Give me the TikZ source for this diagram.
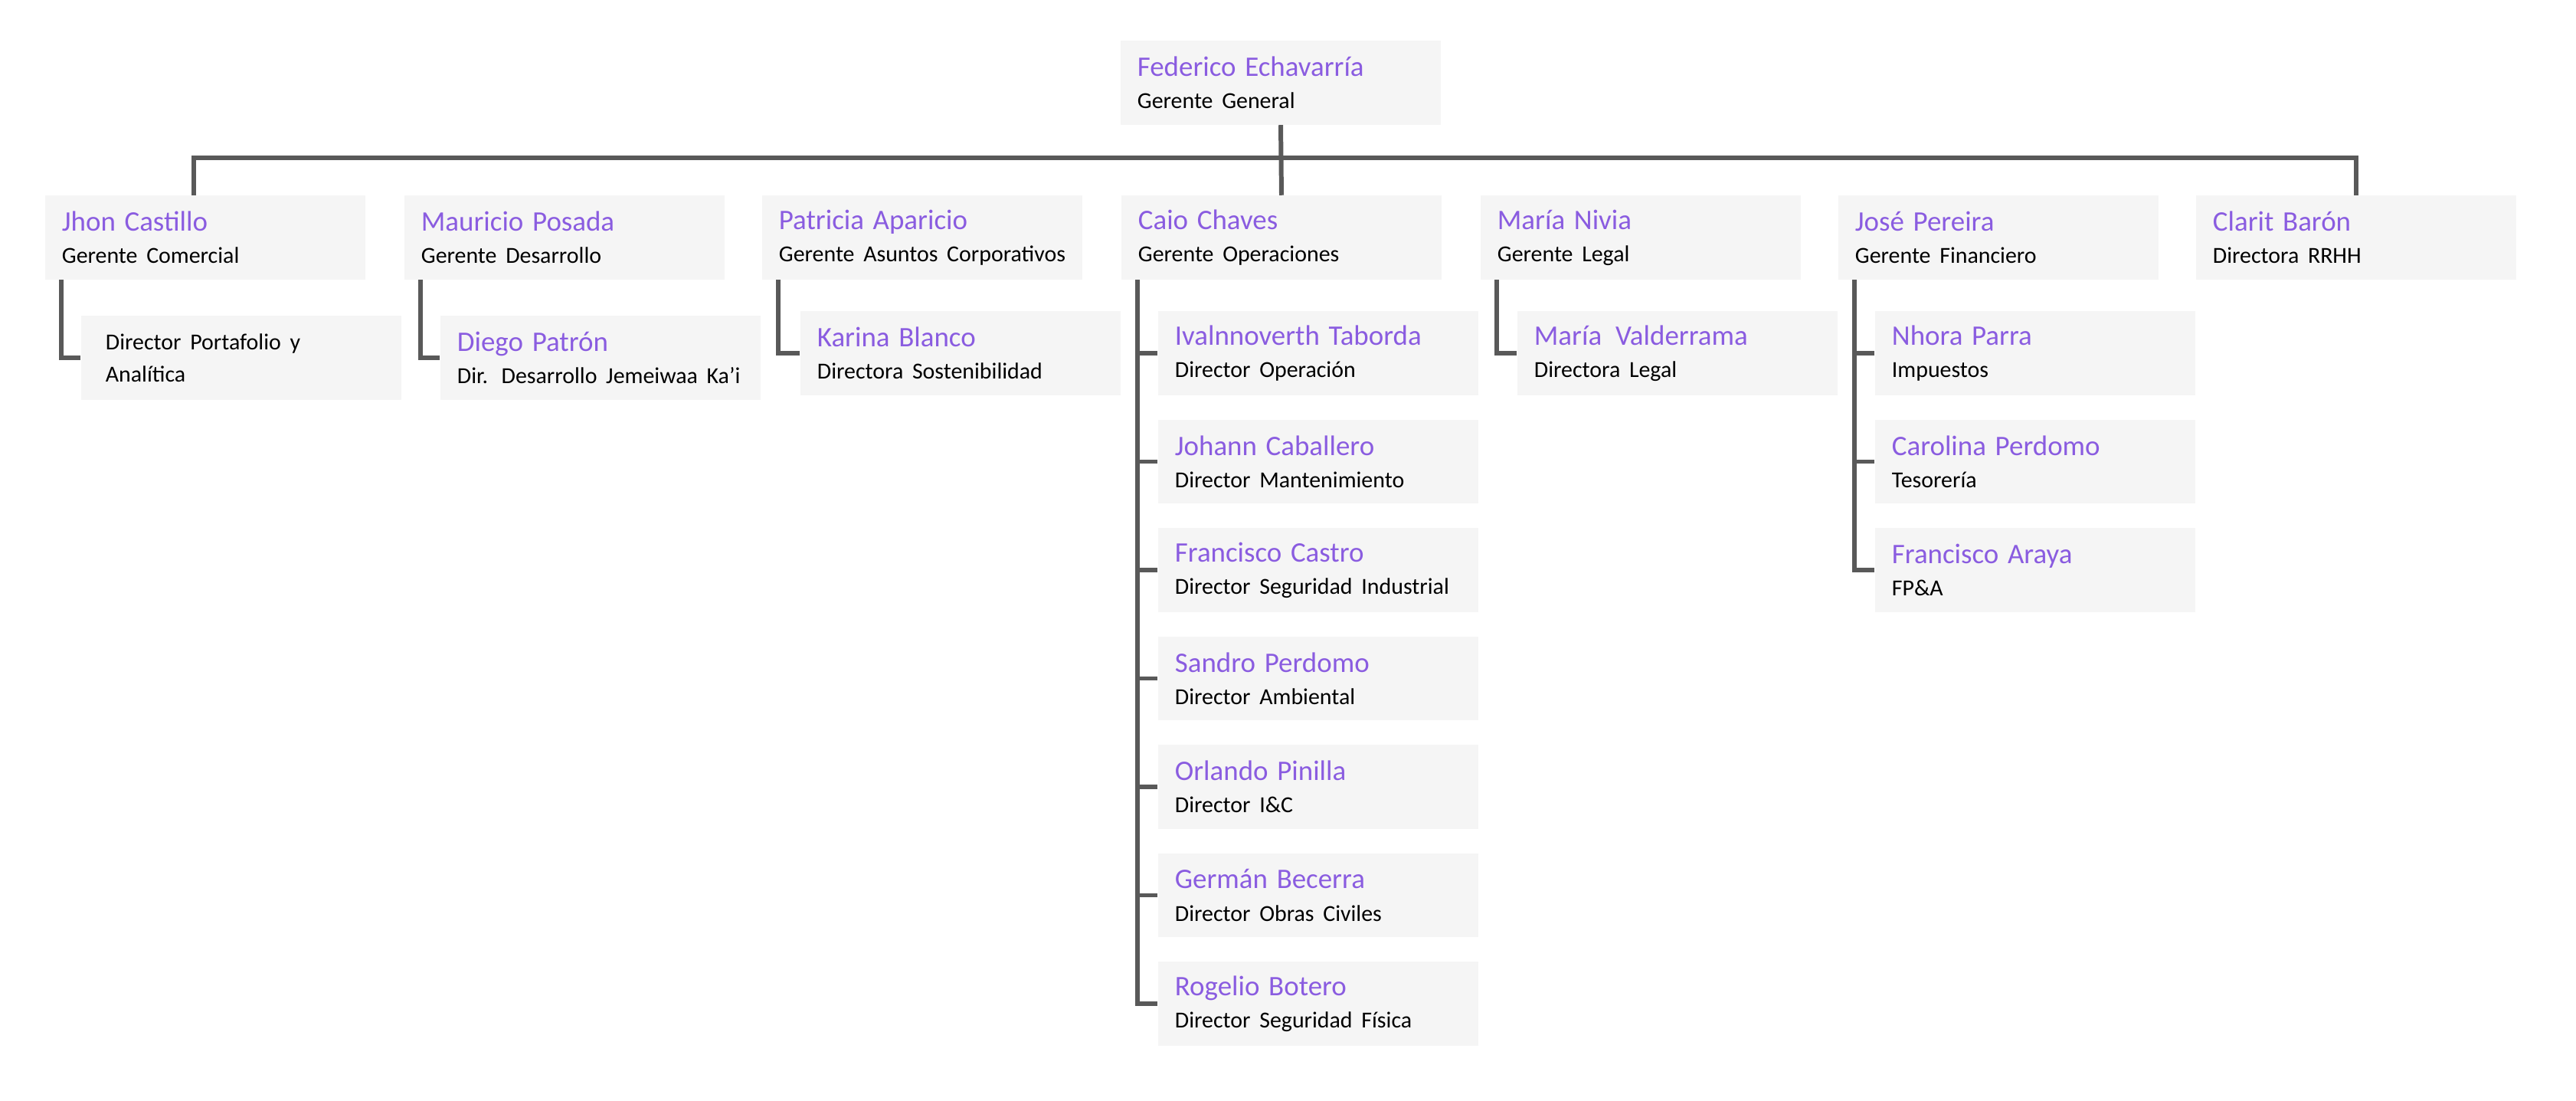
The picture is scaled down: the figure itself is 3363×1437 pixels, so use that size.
\documentclass[tikz,border=0pt]{standalone}
\usepackage{fontspec}
\setmainfont{Carlito}
\definecolor{namecol}{HTML}{8A5CE0}
\definecolor{linecol}{HTML}{595959}
\definecolor{boxcol}{HTML}{F5F5F5}
\newcommand{\pers}[2]{{\fontsize{10.5}{12}\selectfont\color{namecol}#1}\\{\fontsize{8.5}{10}\selectfont #2}}
\tikzset{
  box/.style={rectangle, fill=boxcol, minimum width=4.18cm, minimum height=1.09cm,
    text width=3.74cm, align=left, inner xsep=0.22cm, inner ysep=0pt},
  link/.style={draw=linecol, line width=1.7pt}
}
\begin{document}
\begin{tikzpicture}[x=0.01cm, y=-0.01cm]
    \useasboundingbox (0,0) rectangle (3363,1437);
    \node[box] (ceo) at (1672,108) {\pers{Federico Echavarría}{Gerente General}};
    \node[box] (jhon) at (268,310) {\pers{Jhon Castillo}{Gerente Comercial}};
    \node[box] (mauricio) at (737,310) {\pers{Mauricio Posada}{Gerente Desarrollo}};
    \node[box] (patricia) at (1204,310) {\pers{Patricia Aparicio}{Gerente Asuntos Corporativos}};
    \node[box] (caio) at (1673,310) {\pers{Caio Chaves}{Gerente Operaciones}};
    \node[box] (maria) at (2142,310) {\pers{María Nivia}{Gerente Legal}};
    \node[box] (jose) at (2609,310) {\pers{José Pereira}{Gerente Financiero}};
    \node[box] (clarit) at (3076,310) {\pers{Clarit Barón}{Directora RRHH}};
    % second level
    \node[box, inner xsep=0.32cm, text width=3.54cm] (jhon1) at (315,467) {\fontsize{8.5}{10}\selectfont Director Portafolio y Analítica};
    \node[box] (mauricio1) at (784,467) {\pers{Diego Patrón}{Dir. Desarrollo Jemeiwaa Ka'i}};
    \node[box] (patricia1) at (1254,461) {\pers{Karina Blanco}{Directora Sostenibilidad}};
    \node[box] (maria1) at (2190,461) {\pers{María\, Valderrama}{Directora Legal}};
    \foreach \n/\r [count=\i] in {Ivalnnoverth Taborda/Director Operación, Johann Caballero/Director Mantenimiento,
        Francisco Castro/Director Seguridad Industrial, Sandro Perdomo/Director Ambiental,
        Orlando Pinilla/Director I\&C, Germán Becerra/Director Obras Civiles,
        Rogelio Botero/Director Seguridad Física}
        \node[box] (caio\i) at (1721,{461+141.5*(\i-1)}) {\pers{\n}{\r}};
    \foreach \n/\r [count=\i] in {Nhora Parra/Impuestos, Carolina Perdomo/Tesorería, Francisco Araya/FP\&A}
        \node[box] (jose\i) at (2657,{461+141.5*(\i-1)}) {\pers{\n}{\r}};
    % connectors
    \draw[link] (ceo.south) -- (caio.north);
    \draw[link] ([xshift=-0.15cm]jhon.north) -- ++(0,-49) -| (clarit.north);
    \draw[link] (jhon1.west) -| ([xshift=0.22cm]jhon.south west);
    \draw[link] (mauricio1.west) -| ([xshift=0.22cm]mauricio.south west);
    \draw[link] (patricia1.west) -| ([xshift=0.22cm]patricia.south west);
    \draw[link] (maria1.west) -| ([xshift=0.22cm]maria.south west);
    \foreach \i in {1,...,7}
        \draw[link] (caio\i.west) -| ([xshift=0.22cm]caio.south west);
    \foreach \i in {1,...,3}
        \draw[link] (jose\i.west) -| ([xshift=0.22cm]jose.south west);
\end{tikzpicture}
\end{document}
